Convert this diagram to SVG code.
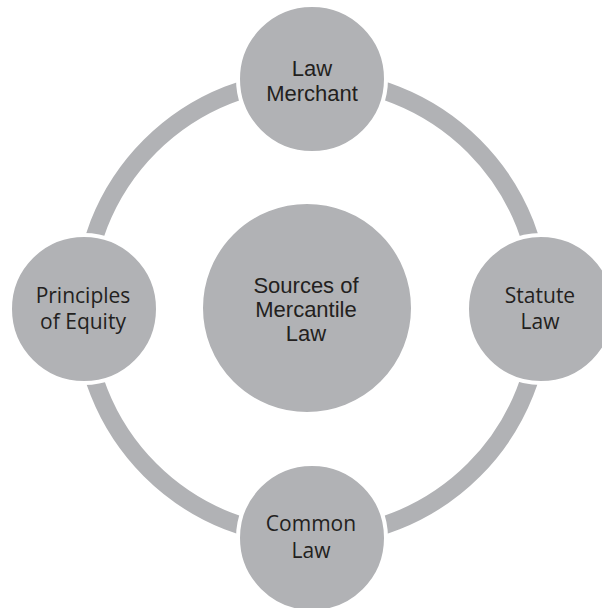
<svg xmlns="http://www.w3.org/2000/svg" width="602" height="608" viewBox="0 0 602 608">
<style>
.ring{fill:none;stroke:#b1b2b5;stroke-width:18}
.node{fill:#b1b2b5;stroke:#ffffff;stroke-width:4}
.ta{font-family:"Liberation Sans",Arial,sans-serif;font-size:22px;fill:#231f20;text-anchor:middle}
.tb{font-family:"Open Sans","Noto Sans",sans-serif;font-size:21px;fill:#231f20;text-anchor:middle}
</style>
<rect width="602" height="608" fill="#ffffff"/>
<g id="connectors">
<path class="ring" d="M312,79 A229,229 0 0 1 541,308"/>
<path class="ring" d="M541,308 A229,229 0 0 1 312,537"/>
<path class="ring" d="M312,537 A229,229 0 0 1 83,308"/>
<path class="ring" d="M83,308 A229,229 0 0 1 312,79"/>
</g>
<g id="center">
<circle class="node" cx="307" cy="308" r="106"/>
<text class="ta" x="306" y="293">Sources of</text>
<text class="ta" x="306" y="317">Mercantile</text>
<text class="ta" x="306" y="341">Law</text>
</g>
<g id="law-merchant">
<circle class="node" cx="312" cy="79" r="74"/>
<text class="ta" x="312" y="76">Law</text>
<text class="ta" x="312" y="101">Merchant</text>
</g>
<g id="statute-law">
<circle class="node" cx="541" cy="309" r="74"/>
<text class="tb" x="540" y="303">Statute</text>
<text class="tb" x="540" y="329">Law</text>
</g>
<g id="common-law">
<circle class="node" cx="312" cy="538" r="74"/>
<text class="tb" x="311" y="531">Common</text>
<text class="tb" x="311" y="558">Law</text>
</g>
<g id="principles-of-equity">
<circle class="node" cx="84" cy="309" r="74"/>
<text class="tb" x="83" y="303">Principles</text>
<text class="tb" x="83" y="329">of Equity</text>
</g>
</svg>
